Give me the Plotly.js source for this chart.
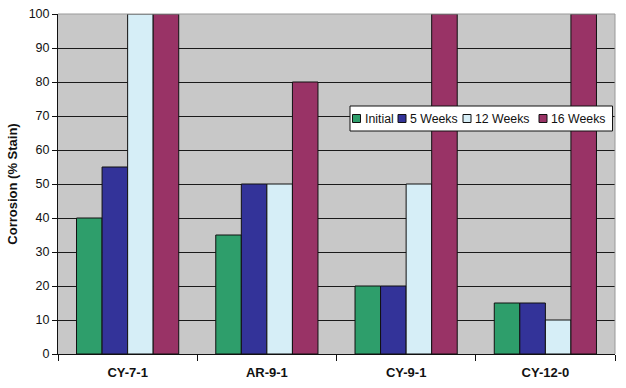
<!DOCTYPE html>
<html><head><meta charset="utf-8">
<script src="https://cdn.plot.ly/plotly-3.0.1.min.js"></script>
<style>body{margin:0;background:#fff}#chart{width:626px;height:388px}</style>
</head><body><div id="chart"></div>
<script>
const categories = ["CY-7-1", "AR-9-1", "CY-9-1", "CY-12-0"];
const seriesNames = ["Initial", "5 Weeks", "12 Weeks", "16 Weeks"];
const initial = [40, 35, 20, 15];
const weeks5 = [55, 50, 20, 15];
const weeks12 = [100, 50, 50, 10];
const weeks16 = [100, 80, 100, 100];
const colors = ["#2E9E6B", "#333399", "#D6EEF7", "#993366"];
const values = [initial, weeks5, weeks12, weeks16];

const traces = values.map((v, i) => ({
  type: "bar", name: seriesNames[i], x: categories, y: v, showlegend: false,
  marker: {color: colors[i], line: {color: "#111", width: 1}}
}));

// plot area in pixels
const L = 58, R = 615, T = 14, B = 354;
const px = x => (x - L) / (R - L);
const py = y => (B - y) / (B - T);

// custom legend (box, swatches, labels)
const legSwatchX = [352.5, 398, 463, 539];
const shapes = [
  {type: "line", xref: "paper", yref: "paper", x0: 0, x1: 1, y0: 1, y1: 1, line: {color: "#999", width: 1}},
  {type: "line", xref: "paper", yref: "paper", x0: 1, x1: 1, y0: 0, y1: 1, line: {color: "#999", width: 1}},
  {type: "rect", xref: "paper", yref: "paper", x0: px(350), x1: px(612.5), y0: py(131), y1: py(106),
   fillcolor: "#fff", line: {color: "#111", width: 1}}
];
const annotations = [];
seriesNames.forEach((n, i) => {
  const sx = legSwatchX[i];
  shapes.push({type: "rect", xref: "paper", yref: "paper", x0: px(sx), x1: px(sx + 8),
    y0: py(122.5), y1: py(114.5), fillcolor: colors[i], line: {color: "#111", width: 1}});
  annotations.push({xref: "paper", yref: "paper", x: px(sx + 10), y: py(118.5),
    xanchor: "left", yanchor: "middle", showarrow: false, text: n,
    font: {size: 12.3, color: "#111"}});
});

const layout = {
  width: 626, height: 388,
  margin: {l: L, r: 626 - R, t: T, b: 388 - B},
  paper_bgcolor: "#fff", plot_bgcolor: "#C8C8C8",
  barmode: "group", bargap: 0.266, bargroupgap: 0,
  font: {family: "Liberation Sans, Arial, sans-serif", size: 12, color: "#111"},
  showlegend: false,
  xaxis: {type: "category", tickson: "boundaries", ticks: "outside", ticklen: 6,
    tickcolor: "#111", showline: true, linecolor: "#111", linewidth: 1,
    tickfont: {size: 13, weight: "bold"}, ticklabelstandoff: 6, showgrid: false, automargin: false},
  yaxis: {range: [0, 100], dtick: 10, ticks: "outside", ticklen: 5, tickcolor: "#111",
    showline: true, linecolor: "#111", showgrid: true, gridcolor: "#1a1a1a", gridwidth: 1,
    zeroline: false, tickfont: {size: 12.5}, automargin: false,
    title: {text: "Corrosion (% Stain)", font: {size: 13, weight: "bold"}, standoff: 8}},
  shapes: shapes,
  annotations: annotations
};
Plotly.newPlot("chart", traces, layout, {displayModeBar: false, staticPlot: true});
</script></body></html>
